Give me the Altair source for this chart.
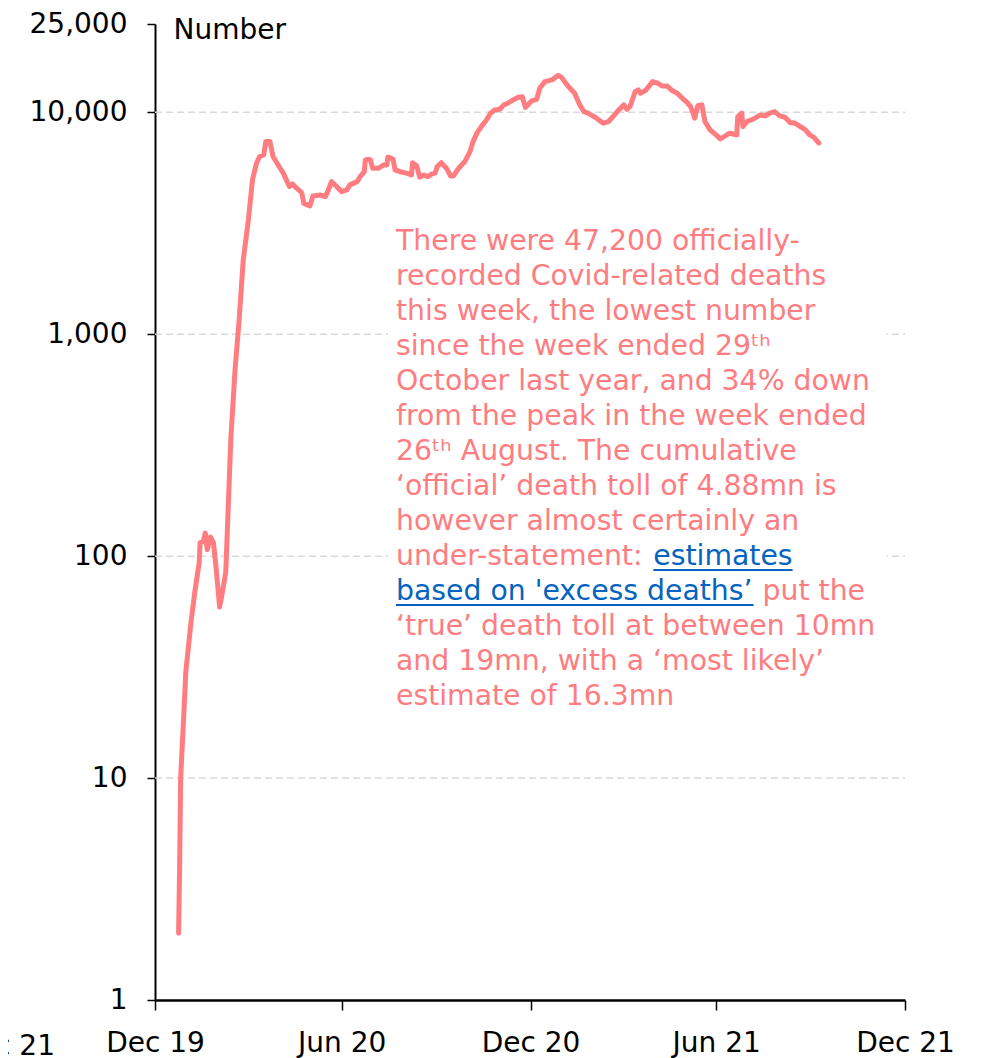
import altair as alt
import pandas as pd

# ---- data (daily Covid-related deaths) ----
dates = [
    "2020-01-23", "2020-01-24", "2020-01-25", "2020-01-28", "2020-01-30", "2020-02-04", "2020-02-08", "2020-02-12", "2020-02-13", "2020-02-16",
    "2020-02-18", "2020-02-20", "2020-02-23", "2020-02-26", "2020-02-29", "2020-03-03", "2020-03-06", "2020-03-09", "2020-03-11", "2020-03-14",
    "2020-03-18", "2020-03-22", "2020-03-26", "2020-03-31", "2020-04-04", "2020-04-08", "2020-04-11", "2020-04-15", "2020-04-17", "2020-04-21",
    "2020-04-24", "2020-04-29", "2020-05-04", "2020-05-10", "2020-05-13", "2020-05-17", "2020-05-22", "2020-05-24", "2020-05-30", "2020-06-02",
    "2020-06-09", "2020-06-14", "2020-06-17", "2020-06-20", "2020-06-25", "2020-06-30", "2020-07-05", "2020-07-08", "2020-07-15", "2020-07-18",
    "2020-07-22", "2020-07-23", "2020-07-26", "2020-07-28", "2020-07-30", "2020-08-05", "2020-08-10", "2020-08-13", "2020-08-14", "2020-08-19",
    "2020-08-21", "2020-08-26", "2020-09-01", "2020-09-06", "2020-09-07", "2020-09-11", "2020-09-14", "2020-09-18", "2020-09-22", "2020-09-26",
    "2020-09-29", "2020-10-01", "2020-10-05", "2020-10-10", "2020-10-14", "2020-10-17", "2020-10-22", "2020-10-28", "2020-11-02", "2020-11-05",
    "2020-11-09", "2020-11-13", "2020-11-18", "2020-11-22", "2020-11-26", "2020-12-01", "2020-12-05", "2020-12-09", "2020-12-14", "2020-12-19",
    "2020-12-23", "2020-12-26", "2021-01-01", "2021-01-06", "2021-01-09", "2021-01-14", "2021-01-21", "2021-01-27", "2021-01-30", "2021-02-06",
    "2021-02-12", "2021-02-17", "2021-02-21", "2021-02-25", "2021-03-04", "2021-03-12", "2021-03-17", "2021-03-22", "2021-03-27", "2021-04-01",
    "2021-04-04", "2021-04-07", "2021-04-12", "2021-04-15", "2021-04-17", "2021-04-22", "2021-04-29", "2021-05-04", "2021-05-08", "2021-05-13",
    "2021-05-18", "2021-05-23", "2021-05-29", "2021-06-01", "2021-06-05", "2021-06-08", "2021-06-09", "2021-06-12", "2021-06-16", "2021-06-19",
    "2021-06-24", "2021-07-01", "2021-07-04", "2021-07-09", "2021-07-13", "2021-07-20", "2021-07-21", "2021-07-25", "2021-07-26", "2021-07-30",
    "2021-08-05", "2021-08-12", "2021-08-17", "2021-08-21", "2021-08-26", "2021-08-31", "2021-09-05", "2021-09-10", "2021-09-15", "2021-09-20",
    "2021-09-25", "2021-09-29", "2021-10-03", "2021-10-08",
]
deaths = [
    2, 4, 10, 19, 30, 50, 70, 93, 115, 116,
    127, 107, 122, 115, 84, 59, 70, 85, 150, 344,
    690, 1160, 2160, 3270, 4960, 5920, 6320, 6430, 7380, 7380,
    6320, 5790, 5320, 4630, 4760, 4550, 4350, 3890, 3790, 4200,
    4240, 4170, 4470, 4870, 4630, 4390, 4470, 4710, 4870, 5130,
    5400, 6100, 6150, 6100, 5600, 5600, 5790, 5790, 6280, 6150,
    5500, 5400, 5320, 5220, 5930, 5740, 5100, 5220, 5130, 5280,
    5320, 5690, 5930, 5600, 5170, 5170, 5600, 6000, 6650, 7380,
    8100, 8620, 9240, 9910, 10250, 10320, 10800, 10990, 11370, 11690,
    11760, 10520, 11250, 11440, 12840, 13750, 14000, 14670, 14410, 13050,
    12190, 10800, 10070, 9910, 9500, 8930, 9090, 9630, 10250, 10800,
    10320, 10620, 12400, 12620, 12190, 12530, 13750, 13520, 13150, 13150,
    12530, 12190, 11440, 11160, 10620, 9730, 9410, 10700, 10800, 9090,
    8330, 7830, 7590, 7830, 8050, 7910, 9560, 9910, 8620, 9090,
    9310, 9730, 9630, 9910, 10070, 9630, 9500, 8990, 8930, 8620,
    8330, 7910, 7730, 7260,
]

y_ticks = [1, 10, 100, 1000, 10000, 25000]
grid_values = [10, 100, 1000, 10000]
x_tick_dates = [(2019, 12, 31), (2020, 6, 30), (2020, 12, 31), (2021, 6, 30), (2021, 12, 31)]
x_domain = [(2019, 12, 31), (2021, 12, 31)]

# white background of the annotation box (data space)
box_x = ["2020-08-14"]
box_x2 = ["2021-12-13"]
box_y = [3100]
box_y2 = [19]

pink_lines_top = [
    "There were 47,200 officially-",
    "recorded Covid-related deaths",
    "this week, the lowest number",
    "since the week ended 29\u1d57\u02b0",
    "October last year, and 34% down",
    "from the peak in the week ended",
    "26\u1d57\u02b0 August. The cumulative",
    "\u2018official\u2019 death toll of 4.88mn is",
    "however almost certainly an",
    "under-statement:",
]
pink_lines_bottom = [
    "\u2018true\u2019 death toll at between 10mn",
    "and 19mn, with a \u2018most likely\u2019",
    "estimate of 16.3mn",
]
link_word_1 = "estimates"
link_word_2 = "based on 'excess deaths\u2019"
after_link = "put the"

PINK = "#FF7C80"
BLUE = "#0563C1"
FONT = "DejaVu Sans"
FS = 28.3
W, H = 750, 976

df = pd.DataFrame({"date": dates, "deaths": deaths})

def dt(t):
    return alt.DateTime(year=t[0], month=t[1], date=t[2], utc=True)

xscale = alt.Scale(type="utc", domain=[dt(x_domain[0]), dt(x_domain[1])], nice=False)
yscale = alt.Scale(type="log", domain=[1, 25000], nice=False)

x_axis = alt.Axis(
    values=[dt(t) for t in x_tick_dates],
    format="%b %y",
    title=None,
    grid=False,
    labelFlush=False,
    labelOverlap=False,
    labelFont=FONT,
    labelFontSize=28,
    labelColor="#000000",
    labelPadding=19,
    tickSize=10,
    tickWidth=1.5,
    tickColor="#000000",
    domainColor="#000000",
    domainWidth=2.5,
)
y_axis = alt.Axis(
    values=y_ticks,
    format=",",
    grid=False,
    title="Number",
    titleAngle=0,
    titleAlign="left",
    titleBaseline="alphabetic",
    titleX=18,
    titleY=14,
    titleFont=FONT,
    titleFontSize=28,
    titleFontWeight="normal",
    titleColor="#000000",
    labelFont=FONT,
    labelFontSize=28,
    labelColor="#000000",
    labelPadding=20,
    tickSize=8,
    tickWidth=1.5,
    tickColor="#000000",
    domainColor="#000000",
    domainWidth=2,
)

grid = alt.Chart(pd.DataFrame({"v": grid_values})).mark_rule(
    color="#D9D9D9", strokeDash=[7, 4], strokeWidth=1.5
).encode(
    y=alt.Y("v:Q", scale=yscale, axis=y_axis),
    x=alt.value(0),
    x2=alt.value(W),
)

box = alt.Chart(pd.DataFrame({"x": box_x, "x2": box_x2, "y": box_y, "y2": box_y2})).mark_rect(
    color="white"
).encode(
    x=alt.X("x:T", scale=xscale, axis=x_axis),
    x2="x2:T",
    y=alt.Y("y:Q", scale=yscale, axis=y_axis),
    y2="y2:Q",
)

line = alt.Chart(df).mark_line(
    color=PINK, strokeWidth=5, strokeJoin="round", strokeCap="round"
).encode(
    x=alt.X("date:T", scale=xscale, axis=x_axis),
    y=alt.Y("deaths:Q", scale=yscale, axis=y_axis),
)

one = pd.DataFrame({"a": [0]})
TX, TY, LH = 241, 226, 35

para_top = alt.Chart(one).mark_text(
    text=pink_lines_top, font=FONT, fontSize=FS, color=PINK, align="left",
    baseline="alphabetic", lineHeight=LH
).encode(x=alt.value(TX), y=alt.value(TY))
para_bottom = alt.Chart(one).mark_text(
    text=pink_lines_bottom, font=FONT, fontSize=FS, color=PINK, align="left",
    baseline="alphabetic", lineHeight=LH
).encode(x=alt.value(TX), y=alt.value(TY + 11 * LH))

w_under = 9.093 * FS
w_est = 4.921 * FS
w_based = 12.636 * FS
w_space = 0.318 * FS

link1 = alt.Chart(one).mark_text(
    text=link_word_1, font=FONT, fontSize=FS, color=BLUE, align="left", baseline="alphabetic"
).encode(x=alt.value(TX + w_under), y=alt.value(TY + 9 * LH))
link2 = alt.Chart(one).mark_text(
    text=link_word_2, font=FONT, fontSize=FS, color=BLUE, align="left", baseline="alphabetic"
).encode(x=alt.value(TX), y=alt.value(TY + 10 * LH))
after = alt.Chart(one).mark_text(
    text=after_link, font=FONT, fontSize=FS, color=PINK, align="left", baseline="alphabetic"
).encode(x=alt.value(TX + w_based + w_space), y=alt.value(TY + 10 * LH))

ul1 = alt.Chart(one).mark_rule(color=BLUE, strokeWidth=2).encode(
    x=alt.value(TX + w_under), x2=alt.value(TX + w_under + w_est), y=alt.value(TY + 9 * LH + 5)
)
ul2 = alt.Chart(one).mark_rule(color=BLUE, strokeWidth=2).encode(
    x=alt.value(TX), x2=alt.value(TX + w_based), y=alt.value(TY + 10 * LH + 5)
)

# fragment of the neighbouring panel's last x label, cut off at the left edge
frag = alt.Chart(one).mark_text(
    text="Dec 21", font=FONT, fontSize=28, color="#000000", align="right", baseline="alphabetic"
).encode(x=alt.value(-100), y=alt.value(1031))

chart = alt.layer(
    grid, box, line, para_top, para_bottom, link1, link2, after, ul1, ul2, frag
).properties(
    width=W,
    height=H,
    padding={"left": 147, "top": 16, "right": 72, "bottom": 58},
    autosize=alt.AutoSizeParams(type="none"),
).configure_view(stroke=None)

chart.save("out.html", embed_options={"renderer": "svg", "actions": False})
